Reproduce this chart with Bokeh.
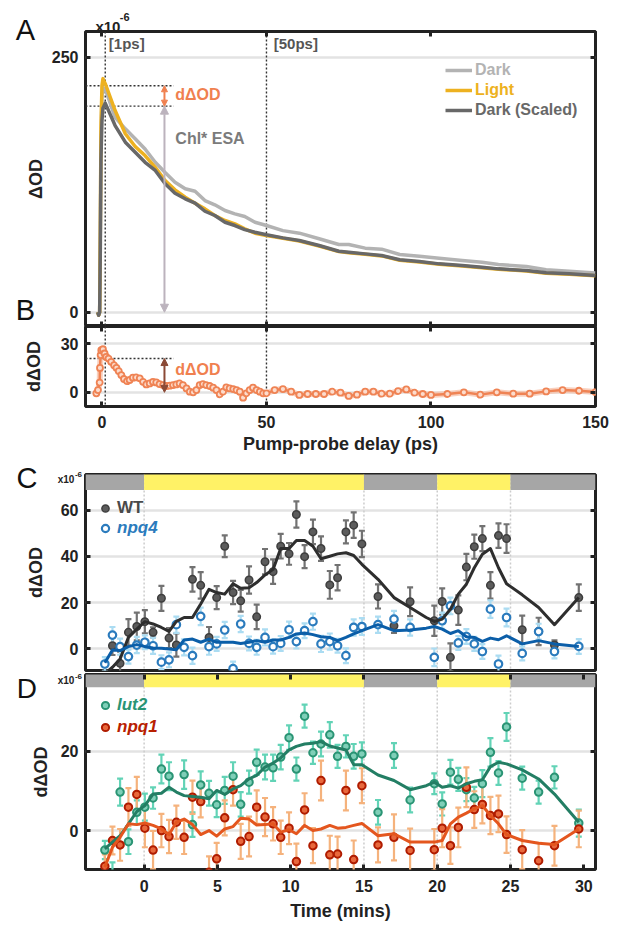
import numpy as np
from bokeh.plotting import figure
from bokeh.layouts import column
from bokeh.models import (Range1d, LinearAxis, FixedTicker, Span, Label, Arrow,
                          NormalHead, Whisker, TeeHead, ColumnDataSource, Legend,
                          LegendItem, CustomJSTickFormatter)
from bokeh.embed import file_html
from bokeh.resources import INLINE

FONT = "Liberation Sans"
INK = "#222222"

# ---------------- data ----------------
# Panel A: transient absorption kinetics (x1e-6)
a_delay = [-1.3, -1.0, -0.7, -0.5, -0.3, 0.0, 0.3, 1, 4, 7.1, 10.1, 13.1, 16.2, 19.2, 22.2,
           25.3, 28.3, 31.3, 34.3, 37.4, 40.4, 43.4, 46.5, 50, 55, 60, 66, 72, 75, 80, 85,
           90.5, 96.5, 102.5, 109.5, 115.5, 120.5, 129, 135, 142, 150]
a_dark = [0, -3, 0, 75, 170, 212, 220, 219, 191, 179.8, 170, 160, 147, 137, 127.5, 121, 118.6,
          109.5, 105.3, 99.7, 96.4, 93.8, 88.2, 85, 80, 77.5, 72, 66.4, 66.4, 62.8, 61.8, 56.6,
          54.9, 53, 50.7, 49, 46.8, 44.8, 41.6, 40.2, 38.4]
a_light = [0, -3, 0, 80, 180, 222, 229, 224, 197.7, 175, 162.5, 153.6, 142, 129, 120, 112.7,
           106.9, 101.3, 94.8, 89.9, 86.6, 81.7, 77.5, 75.2, 72.5, 69.8, 64.9, 59.4, 58.4, 56.8,
           55.2, 51.0, 49.3, 47.0, 45.4, 43.7, 42.1, 40.5, 38.3, 37.3, 35.8]
a_dark_scaled = [0, -3, 0, 60, 150, 188, 200, 205, 183, 166.7, 156.9, 147, 139, 125.9, 116.7,
                 111.2, 106.9, 99, 94.8, 88.2, 85, 81, 78.4, 75.9, 72.9, 70.3, 65.4, 59.8, 58.8,
                 57.2, 55.6, 51.4, 49.7, 47.4, 45.8, 44.1, 42.5, 40.9, 38.6, 37.6, 36.0]
a_levels = [222, 202]          # dotted guide levels (Light / Dark scaled at 1 ps)
guide_end = 21.8               # ps where guide lines stop
arrow_at = 19.0                # ps where the arrows sit
probe_marks = [1, 50]
probe_labels = ["[1ps]", "[50ps]"]

# Panel B: difference trace
b_delay = [-1.7, -1.2, -0.7, -0.6, -0.4, -0.2, 0.3, 0.8, 1.3, 2.0,
           2.8, 3.7, 4.4, 5.1, 5.9, 6.7, 7.6, 8.4, 9.4, 10.4,
           11.5, 12.5, 13.5, 14.5, 15.5, 16.5, 17.5, 18.6, 19.6, 20.6,
           21.6, 22.6, 23.6, 24.6, 25.7, 26.7, 27.7, 28.7, 29.7, 30.7,
           31.7, 32.8, 33.8, 34.8, 35.8, 36.8, 37.8, 38.8, 39.9, 40.9,
           41.9, 42.9, 43.9, 44.9, 45.9, 47.0, 48.0, 49.0, 50.0, 52.5,
           55.0, 57.5, 60.0, 62.5, 65.0, 67.5, 70.0, 72.5, 75.0, 77.5,
           80.0, 82.5, 85.0, 87.5, 90.0, 92.5, 95.0, 97.5, 100, 105,
           110, 115, 120, 125, 130, 135, 140, 145, 150]
b_diff = [-0.6, 1.4, 6, 15, 22.9, 25.9, 26.5, 23.9, 21.8, 20.8,
          18.8, 16.7, 15.1, 13.1, 10.6, 8.2, 6.9, 7.6, 9.0, 9.2,
          8.6, 6.5, 4.9, 5.5, 6.5, 6.1, 5.1, 4.5, 3.9, 4.1,
          4.5, 4.9, 5.5, 4.5, 2.4, 0.4, 0, 1.4, 4.5, 5.1,
          4.5, 3.9, 2.9, 1.4, -1.2, 0.4, 3.1, 2.4, 2.0, 1.4,
          0.4, -3.3, -0.6, 1.4, 2.9, 1.4, 0.4, -0.6, -0.6, 1.4,
          2.0, 0.4, -1.6, -1.0, -1.0, -1.0, 0.4, -0.2, -2.2, -1.4,
          0.4, 0.4, -0.8, -0.8, 0.8, 1.8, -0.2, -1.0, -1.6, -1.0,
          0, -1.4, 0, -0.8, -0.8, 0.6, 1.4, 1.0, 0.2]
b_level = 20.8

# Panels C/D: time course (minutes), x1e-6
cd_time = [-2.68, -2.16, -1.64, -1.07, -0.5, 0.05, 0.61, 1.18, 1.7, 2.2,
           2.73, 3.3, 3.86, 4.43, 4.95, 5.5, 6.07, 6.59, 7.16, 7.68,
           8.25, 8.8, 9.32, 9.89, 10.39, 10.95, 11.52, 12.07, 12.67, 13.2,
           13.77, 14.3, 14.86, 15.96, 17.05, 18.15, 19.25, 19.8, 20.34, 20.9,
           21.44, 21.99, 22.53, 23.08, 23.63, 24.18, 24.73, 25.8, 26.92, 28.0,
           29.66]
wt_val = [None, 1.4, -6.2, 7.2, 9.7, 11.8, 7.2, 21.9, 4.7, 1.7,
          None, 30.1, 27.5, 5.0, 22.2, 44.4, 24.4, 20.8, 29.8, 13.9,
          37.7, 33.4, 44.4, 41.1, 58.1, 39.9, 50.6, 43.4, 27.7, 30.8,
          50.6, 53.5, 45.4, 22.7, 10.0, 20.4, None, 12.2, 20.5, -3.6,
          16.8, 35.4, 44.2, 47.7, 27.5, 49.0, 47.7, 8.3, 7.6, 1.7,
          22.2]
wt_err = [None, 4.0, 5.0, 5.7, 6.0, 5.0, 2.2, 5.4, 4.3, 5.0,
          None, 5.3, 5.7, 4.5, 5.0, 4.7, 5.0, 4.7, 5.9, 5.3,
          5.5, 5.3, 5.3, 4.7, 5.7, 5.0, 5.3, 5.3, 6.0, 5.5,
          5.0, 5.5, 5.7, 5.2, 3.0, 6.2, None, 6.5, 5.7, 6.0,
          6.4, 5.7, 5.2, 5.4, 5.7, 5.3, 6.2, 6.1, 5.9, 2.0,
          5.7]
wt_fit = [-10.7, -7.9, -4.3, 5.0, 8.6, 11.8, 10.8, 9.3, 7.6, 11.9,
          13.6, 13.6, 19.4, 25.8, 24.4, 23.7, 28.2, 26.2, 26.5, 28.7,
          32.0, 34.4, 43.4, 43.4, 46.9, 46.9, 44.4, 39.0, 40.1, 41.1,
          41.6, 40.4, 36.6, 30.1, 22.2, 17.9, 13.6, 11.9, 12.9, 17.2,
          23.7, 28.0, 35.1, 40.9, 43.4, 35.1, 28.2, 23.4, 17.9, 10.5,
          22.2]
npq4_val = [-6.5, 6.0, 1.0, -3.3, 1.7, 2.9, 1.4, -5.7, -4.7, 10.5,
            0.7, -2.9, 14.1, 1.0, 2.2, 8.2, -8.5, 10.8, 2.4, 0.7,
            5.0, 1.0, 2.4, 8.3, 3.2, 7.9, 11.8, 2.2, 3.2, 1.4,
            -2.9, 9.3, 9.7, 10.5, 12.9, 9.3, None, -3.6, 12.2, 18.6,
            2.6, 5.4, 2.2, -1.1, 17.2, -6.5, 13.6, -1.9, 7.5, -1.1,
            1.1]
npq4_err = [3.0, 3.5, 3.5, 3.0, 3.5, 3.0, 3.5, 3.0, 3.2, 3.5,
            3.5, 3.5, 3.8, 3.5, 3.0, 3.5, 3.0, 3.5, 3.0, 3.2,
            3.5, 3.0, 3.2, 3.5, 3.0, 3.2, 3.5, 3.5, 3.5, 3.0,
            3.2, 3.5, 3.6, 3.5, 3.6, 3.5, None, 3.8, 3.5, 3.6,
            3.0, 3.2, 3.0, 3.2, 3.8, 3.6, 3.8, 3.0, 3.4, 3.0,
            3.2]
npq4_fit = [-6.0, -0.4, -0.7, 1.0, 1.9, 1.0, 0.4, 0.3, 0.0, -0.3,
            3.9, 4.3, 2.9, 4.3, 2.9, 2.9, 2.9, 2.4, 2.9, 3.6,
            2.9, 3.9, 3.9, 5.0, 6.5, 6.9, 6.2, 5.3, 5.0, 3.6,
            5.0, 6.5, 7.9, 10.5, 7.9, 8.2, 9.0, 9.7, 8.6, 6.7,
            7.9, 5.3, 5.0, 3.3, 4.7, 4.0, 5.7, 2.2, 3.6, 2.2,
            1.1]
lut2_val = [-4.9, -11.0, 9.7, -2.8, 4.6, 5.9, 8.2, 15.5, 13.7, None,
            14.1, 1.5, 11.5, 9.4, 6.5, 10.1, 13.7, 6.6, 12.2, 17.2,
            16.0, 15.8, 18.5, 23.4, 15.5, 28.8, 19.6, 21.8, 24.1, 18.7,
            21.2, 18.7, 19.3, 4.6, 18.9, 7.7, None, 11.8, 6.7, 14.7,
            12.9, 10.3, 8.2, 11.8, 19.7, 14.5, 26.1, 13.2, 9.7, 13.4,
            1.9]
lut2_err = [2.3, 3.0, 3.4, 3.1, 3.0, 3.4, 2.7, 3.6, 3.5, None,
            3.6, 3.1, 3.4, 3.1, 3.1, 3.4, 3.5, 3.1, 2.9, 3.2,
            3.1, 3.3, 3.1, 3.1, 2.9, 2.9, 2.8, 3.1, 3.2, 2.9,
            2.8, 3.1, 2.9, 3.1, 3.1, 3.1, None, 2.6, 2.9, 3.1,
            2.9, 2.9, 2.8, 3.4, 3.6, 3.0, 3.5, 2.9, 2.9, 2.8,
            3.4]
lut2_fit = [-4.6, -2.9, -1.3, 1.7, 4.8, 6.3, 9.2, 9.4, 10.9, 9.7,
            8.8, 8.6, 8.4, 8.0, 10.1, 9.1, 10.5, 11.3, 13.0, 13.9,
            16.0, 17.0, 18.3, 20.3, 21.2, 21.8, 22.0, 22.4, 21.3, 20.8,
            20.3, 16.6, 16.6, 14.0, 12.6, 10.3, 11.3, 12.2, 10.9, 11.3,
            10.7, 11.8, 12.4, 12.8, 16.1, 17.2, 16.8, 15.3, 13.0, 9.2,
            2.1]
npq1_val = [-9.0, -2.5, -3.6, 5.9, 9.1, 0.6, -4.9, 0.0, -1.5, 2.1,
            -1.7, 8.4, 7.3, -10.5, -7.1, 3.2, 10.3, -2.7, -1.5, 5.9,
            3.4, 1.7, -1.7, 0.6, -7.8, 5.2, -3.8, 12.6, -6.1, -5.9,
            10.1, -7.3, 11.3, -3.6, -1.7, -5.0, None, -4.8, 0.6, -3.8,
            0.8, 10.9, 5.3, 6.6, 3.8, 4.2, -1.0, -4.8, -7.6, -3.8,
            0.4]
npq1_err = [3.0, 3.5, 4.0, 4.8, 4.4, 4.8, 4.8, 4.2, 4.2, 4.2,
            4.2, 4.2, 4.0, 4.0, 4.0, 4.4, 4.0, 4.4, 5.0, 4.2,
            4.8, 4.2, 4.2, 4.0, 4.5, 4.2, 4.4, 5.0, 4.8, 4.4,
            5.0, 4.8, 4.4, 4.4, 5.8, 5.5, None, 5.2, 4.8, 4.6,
            5.0, 5.0, 4.6, 4.8, 4.7, 4.6, 4.6, 4.9, 4.5, 5.0,
            4.6]
npq1_fit = [-9.2, -4.2, -1.7, 1.7, 1.5, 1.9, 1.3, 0.4, -1.0, 2.1,
            2.9, 1.5, -1.0, 0.0, -1.4, 0.4, 1.0, 3.1, 2.9, 1.4,
            1.5, 1.7, -0.4, 0.2, -0.8, 1.3, 0.0, 0.4, 1.3, 0.6,
            0.8, 1.3, 1.8, -1.3, -0.8, -2.9, -2.9, -2.9, -2.5, 1.7,
            3.4, 4.4, 5.5, 6.3, 3.8, 1.7, -1.0, -2.5, -3.2, -3.5,
            0.4]

phase_start = [-4, 0, 15, 20, 25]
phase_end = [0, 15, 20, 25, 30.8]
phase_kind = ["dark", "light", "dark", "light", "dark"]
phase_edges = [0, 15, 20, 25]

ps_ticks = [0, 50, 100, 150]
min_ticks = [0, 5, 10, 15, 20, 25, 30]
a_yticks = [0, 250]
b_yticks = [0, 30]
c_yticks = [0, 20, 40, 60]
d_yticks = [0, 20]

# ---------------- styling helpers ----------------
C_DARK, C_LIGHT, C_DARKS = "#b3b3b3", "#EDB120", "#686868"
C_ORANGE = "#F0804F"
PHASE_COL = {"dark": "#a6a6a6", "light": "#fff266"}
W = 616


def make_fig(h, xr, yr, top, bottom):
    p = figure(width=W, height=h, x_range=Range1d(*xr), y_range=Range1d(*yr),
               min_border_left=85, min_border_right=W - 85 - 510, min_border_top=top,
               min_border_bottom=bottom, output_backend="svg", toolbar_location=None)
    p.outline_line_color = INK
    p.outline_line_width = 3
    p.xgrid.visible = False
    p.ygrid.grid_line_color = "#e3e3e3"
    p.ygrid.grid_line_width = 2.5
    return p


def style_axis(ax, ticks, standoff=7, label=None, label_standoff=5):
    t = FixedTicker(ticks=ticks)
    ax.ticker = t
    ax.axis_line_color = None
    ax.major_tick_in = 5
    ax.major_tick_out = 0
    ax.major_tick_line_width = 3
    ax.major_tick_line_color = INK
    ax.minor_tick_line_color = None
    ax.major_label_text_font = FONT
    ax.major_label_text_font_style = "bold"
    ax.major_label_text_font_size = "16px"
    ax.major_label_text_color = INK
    ax.major_label_standoff = standoff
    ax.axis_label_text_font = FONT
    ax.axis_label_text_font_style = "bold"
    ax.axis_label_text_font_size = "18px"
    ax.axis_label_text_color = INK
    ax.axis_label_standoff = label_standoff
    if label is not None:
        ax.axis_label = label
    return t


def ghostify(ax, ticks):
    ax.ticker = FixedTicker(ticks=ticks)
    ax.formatter = CustomJSTickFormatter(code="return ''")
    ax.major_label_text_font_size = "1px"
    ax.major_label_standoff = 0
    ax.major_tick_in = 5
    ax.major_tick_out = 0
    ax.major_tick_line_width = 3
    ax.major_tick_line_color = INK
    ax.minor_tick_line_color = None
    ax.axis_line_color = None


def ghost_axis(p, side, ticks):
    ax = LinearAxis()
    ghostify(ax, ticks)
    p.add_layout(ax, side)


def txt(p, x, y, s, size, color=INK, style="bold", align="left", baseline="middle",
        place="center"):
    # labels outside the frame live in a side panel so that they are not clipped
    lab = Label(x=x, y=y, text=s, text_font=FONT, text_font_size=f"{size}px",
                text_font_style=style, text_color=color, text_align=align,
                text_baseline=baseline)
    if place == "center":
        p.add_layout(lab)
    else:
        p.add_layout(lab, place)


def solo_legend(p, rend, label, color, loc, gw, gh, style="bold", standoff=3, size="16px"):
    lg = Legend(items=[LegendItem(label=label, renderers=[rend])], location=loc,
                border_line_color=None, background_fill_alpha=0, padding=0, margin=0,
                spacing=0, glyph_width=gw, glyph_height=gh, label_height=gh,
                label_standoff=standoff, label_text_font=FONT, label_text_font_size=size,
                label_text_font_style=style, label_text_color=color)
    p.add_layout(lg)


def errbars(p, t, v, e, color, width=2.2):
    t = np.asarray(t, dtype=float)
    v = np.asarray(v, dtype=float)
    e = np.asarray(e, dtype=float)
    m = ~np.isnan(v) & ~np.isnan(e)
    src = ColumnDataSource(dict(base=t[m], lower=(v - e)[m], upper=(v + e)[m]))
    w = Whisker(source=src, base="base", lower="lower", upper="upper",
                line_color=color, line_width=width, level="underlay",
                upper_head=TeeHead(size=6, line_color=color, line_width=width),
                lower_head=TeeHead(size=6, line_color=color, line_width=width))
    p.add_layout(w)


def fnum(a):
    return np.asarray(a, dtype=float)


# ---------------- Panel A ----------------
XR_PS = (-5, 150)
pa = make_fig(326, XR_PS, (-14, 275.2), 31, 0)
t = style_axis(pa.yaxis[0], a_yticks, standoff=7, label="ΔOD", label_standoff=3)
pa.ygrid.ticker = t
ghostify(pa.xaxis[0], ps_ticks)
ghost_axis(pa, "above", ps_ticks)
ghost_axis(pa, "right", a_yticks)

for xm in probe_marks:
    pa.add_layout(Span(location=xm, dimension="height", line_color="#333333",
                       line_dash="2 2", line_width=1.4, level="underlay"))
pa.segment(x0=[XR_PS[0]] * 2, y0=a_levels, x1=[guide_end] * 2, y1=a_levels,
           line_color="#333333", line_dash="2 2", line_width=1.4)

r_dark = pa.line(a_delay, a_dark, line_color=C_DARK, line_width=3.5, line_join="round")
r_light = pa.line(a_delay, a_light, line_color=C_LIGHT, line_width=3.5, line_join="round")
r_darks = pa.line(a_delay, a_dark_scaled, line_color=C_DARKS, line_width=3.5, line_join="round")

pa.add_layout(Arrow(x_start=arrow_at, y_start=a_levels[1], x_end=arrow_at, y_end=0,
                    line_color="#bcb3bd", line_width=2,
                    start=NormalHead(size=8, fill_color="#bcb3bd", line_color="#bcb3bd"),
                    end=NormalHead(size=8, fill_color="#bcb3bd", line_color="#bcb3bd")))
pa.add_layout(Arrow(x_start=arrow_at, y_start=a_levels[1], x_end=arrow_at, y_end=a_levels[0],
                    line_color=C_ORANGE, line_width=2,
                    start=NormalHead(size=6, fill_color=C_ORANGE, line_color=C_ORANGE),
                    end=NormalHead(size=6, fill_color=C_ORANGE, line_color=C_ORANGE)))

txt(pa, 22.3, 213.4, "dΔOD", 16, C_ORANGE)
txt(pa, 22.3, 170, "Chl* ESA", 16, "#7b7b7b")
txt(pa, 2.1, 263.1, probe_labels[0], 15, "#555555")
txt(pa, 52.2, 263.1, probe_labels[1], 15, "#555555")
txt(pa, -1.98, 280.4, "x10", 15, INK, baseline="alphabetic", place="above")
txt(pa, 5.4, 289.9, "-6", 11, INK, place="above")
txt(pa, -23.25, 276.2, "A", 29, "#111111", style="normal", align="center", place="right")
txt(pa, -23.25, 2.6, "B", 29, "#111111", style="normal", align="center", place="left")

solo_legend(pa, r_dark, "Dark", C_DARK, (360, 247), 27, 18)
solo_legend(pa, r_light, "Light", C_LIGHT, (360, 227), 27, 18)
solo_legend(pa, r_darks, "Dark (Scaled)", C_DARKS, (360, 207), 27, 18)

# ---------------- Panel B ----------------
pb = make_fig(130, XR_PS, (-8.7, 40.5), 0, 49)
t = style_axis(pb.yaxis[0], b_yticks, standoff=7, label="dΔOD", label_standoff=14)
pb.ygrid.ticker = t
style_axis(pb.xaxis[0], ps_ticks, standoff=9, label="Pump-probe delay (ps)", label_standoff=3)
ghost_axis(pb, "above", ps_ticks)
ghost_axis(pb, "right", b_yticks)

for xm in probe_marks:
    pb.add_layout(Span(location=xm, dimension="height", line_color="#333333",
                       line_dash="2 2", line_width=1.4, level="underlay"))
pb.segment(x0=[XR_PS[0]], y0=[b_level], x1=[guide_end], y1=[b_level],
           line_color="#333333", line_dash="2 2", line_width=1.4)
pb.line(b_delay, b_diff, line_color="#f6bca2", line_width=6, line_alpha=0.7)
pb.line(b_delay, b_diff, line_color="#ef8354", line_width=2.5)
pb.scatter(b_delay, b_diff, marker="circle", size=6, fill_color="#fcdccd",
           line_color="#ef8354", line_width=1.8)
pb.add_layout(Arrow(x_start=arrow_at, y_start=0, x_end=arrow_at, y_end=b_level,
                    line_color="#8b4a36", line_width=2,
                    start=NormalHead(size=7, fill_color="#8b4a36", line_color="#8b4a36"),
                    end=NormalHead(size=7, fill_color="#8b4a36", line_color="#8b4a36")))
txt(pb, 22.3, 14.2, "dΔOD", 16, C_ORANGE)

# ---------------- Panels C & D ----------------
XR_MIN = (-4, 30.8)


def phase_bar(p, bottom, top):
    p.quad(left=phase_start, right=phase_end, bottom=[bottom] * len(phase_start),
           top=[top] * len(phase_start), fill_color=[PHASE_COL[k] for k in phase_kind],
           line_color=None)
    for xe in phase_edges:
        p.add_layout(Span(location=xe, dimension="height", line_color="#cccccc",
                          line_dash="2 2", line_width=1.5, level="underlay"))


# Panel C
pc = make_fig(216, XR_MIN, (-9.3, 75.4), 18, 2)
t = style_axis(pc.yaxis[0], c_yticks, standoff=7, label="dΔOD", label_standoff=12)
pc.ygrid.ticker = t
pc.xaxis.visible = False
ghost_axis(pc, "right", c_yticks)
phase_bar(pc, 68.7, 76)

T = fnum(cd_time)
errbars(pc, T, wt_val, wt_err, "#727272")
errbars(pc, T, npq4_val, npq4_err, "#abdcf2")
r_wt = pc.scatter(T, fnum(wt_val), marker="circle", size=7.5, fill_color="#5c5c5c",
                  line_color="#3e3e3e", line_width=1.5)
r_n4 = pc.scatter(T, fnum(npq4_val), marker="circle", size=7.5, fill_color="white",
                  line_color="#2b7bbd", line_width=2.2)
pc.line(T, fnum(wt_fit), line_color="#2e2e2e", line_width=3, line_join="round")
pc.line(T, fnum(npq4_fit), line_color="#0b5ea8", line_width=3, line_join="round")
solo_legend(pc, r_wt, "WT", "#4a4a4a", (11, 152), 18, 20, size="17px")
solo_legend(pc, r_n4, "npq4", "#2b7bbd", (11, 132), 18, 20, style="bold italic", size="17px")
txt(pc, -8.0, 74.1, "C", 29, "#111111", style="normal", align="center", place="left")
txt(pc, -5.9, 73.1, "x10", 10, INK, baseline="alphabetic", place="above")
txt(pc, -4.72, 75.6, "-6", 8, INK, place="right")

# Panel D
pd_ = make_fig(252, XR_MIN, (-9.8, 39.3), 2, 55)
t = style_axis(pd_.yaxis[0], d_yticks, standoff=7, label="dΔOD", label_standoff=7)
pd_.ygrid.ticker = t
style_axis(pd_.xaxis[0], min_ticks, standoff=10, label="Time (mins)", label_standoff=6)
ghost_axis(pd_, "above", min_ticks)
ghost_axis(pd_, "right", d_yticks)
phase_bar(pd_, 36.1, 40)

errbars(pd_, T, lut2_val, lut2_err, "#62d3b6")
errbars(pd_, T, npq1_val, npq1_err, "#f5b27c")
r_l2 = pd_.scatter(T, fnum(lut2_val), marker="circle", size=7.5, fill_color="#7fcfb8",
                   line_color="#2a9474", line_width=2)
r_n1 = pd_.scatter(T, fnum(npq1_val), marker="circle", size=7.5, fill_color="#e8683c",
                   line_color="#b01c00", line_width=2)
pd_.line(T, fnum(lut2_fit), line_color="#237e64", line_width=3, line_join="round")
pd_.line(T, fnum(npq1_fit), line_color="#e4561e", line_width=3, line_join="round")
solo_legend(pd_, r_l2, "lut2", "#2a9474", (11, 154), 18, 20, style="bold italic", size="17px")
solo_legend(pd_, r_n1, "npq1", "#b82000", (11, 132), 18, 20, style="bold italic", size="17px")
txt(pd_, -8.0, 35.9, "D", 28, "#111111", style="normal", align="center", place="left")
txt(pd_, -5.9, 37.7, "x10", 10, INK, baseline="alphabetic", place="right")
txt(pd_, -4.72, 38.7, "-6", 8, INK, place="left")

layout = column(pa, pb, pc, pd_)
open("out.html", "w").write(file_html(layout, INLINE))
